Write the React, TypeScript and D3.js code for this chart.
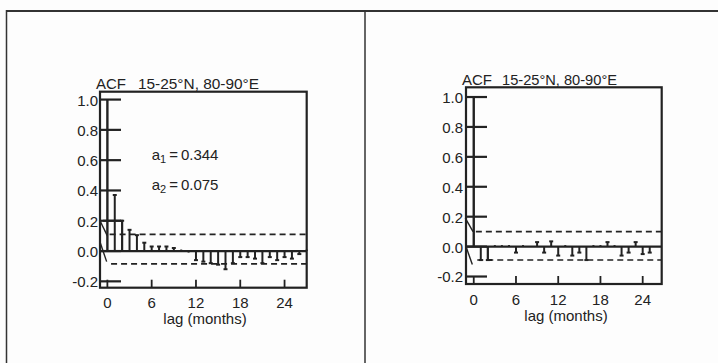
import React from "react";
import * as d3 from "d3";

// ---- data ----
const lagTicks = [0, 6, 12, 18, 24];
const yTicks = [-0.2, 0.0, 0.2, 0.4, 0.6, 0.8, 1.0];
const yTickLabels = ["-0.2", "0.0", "0.2", "0.4", "0.6", "0.8", "1.0"];
const titleHead = "ACF";
const titleTail = "15-25°N, 80-90°E";
const xTitle = "lag (months)";

const leftLags = [0,1,2,3,4,5,6,7,8,9,10,11,12,13,14,15,16,17,18,19,20,21,22,23,24,25,26,27];
const leftAcf = [1.0,0.37,0.2,0.14,0.105,0.055,0.03,0.03,0.03,0.02,0.01,-0.01,-0.06,-0.07,-0.08,-0.09,-0.12,-0.08,-0.04,-0.04,-0.05,-0.08,-0.04,-0.06,-0.04,-0.05,-0.02,0.01];
const leftUpper = 0.11;
const leftLower = -0.085;
const leftModelLag = [-0.6, 2, 2];
const leftModelVal = [0.2, 0.2, 0.0];
const leftDiagUpperLag = [-1, 0];
const leftDiagUpperVal = [0.2, 0.1];
const leftDiagLowerLag = [-1, -0.1];
const leftDiagLowerVal = [0.06, -0.07];

const rightLags = [0,1,2,3,4,5,6,7,8,9,10,11,12,13,14,15,16,17,18,19,20,21,22,23,24,25,26];
const rightAcf = [1.0,-0.09,-0.09,0.01,0.01,0.01,-0.04,0.01,0.0,0.03,-0.04,0.035,-0.06,0.01,-0.06,-0.04,-0.09,0.01,0.01,0.03,0.01,-0.06,-0.04,0.03,-0.05,-0.04,0.0];
const rightUpper = 0.1;
const rightLower = -0.09;
const rightModelLag = [2, 2, 2.6];
const rightModelVal = [0.0, -0.09, -0.09];
const rightDiagUpperLag = [-1.2, -0.1];
const rightDiagUpperVal = [0.19, 0.1];
const rightDiagLowerLag = [-1.1, -0.2];
const rightDiagLowerVal = [0.0, -0.12];

const INK = "#222";
const FONT = "'Liberation Sans', Arial, sans-serif";

type PanelProps = {
  x0: number; x1: number; y0: number; y1: number;
  xDomain: [number, number]; yDomain: [number, number];
  lags: number[]; acf: number[];
  upper: number; lower: number;
  modelLag: number[]; modelVal: number[];
  duLag: number[]; duVal: number[];
  dlLag: number[]; dlVal: number[];
  labelRight: number; titleX: number; titleY: number; tailX: number; tailLen: number;
  tickLabelY: number; xTitleX: number; xTitleY: number;
  annot?: boolean;
};

function Panel(p: PanelProps) {
  const x = d3.scaleLinear().domain(p.xDomain).range([p.x0, p.x1]);
  const y = d3.scaleLinear().domain(p.yDomain).range([p.y1, p.y0]);
  const line = d3.line<[number, number]>().x(d => x(d[0])).y(d => y(d[1]));
  const model = line(p.modelLag.map((l, i) => [l, p.modelVal[i]] as [number, number])) || "";
  const du = line(p.duLag.map((l, i) => [l, p.duVal[i]] as [number, number])) || "";
  const dl = line(p.dlLag.map((l, i) => [l, p.dlVal[i]] as [number, number])) || "";
  return (
    <g>
      {yTicks.map((t, i) => (
        <line key={"yt" + i} x1={p.x0} x2={p.x0 + 21} y1={y(t)} y2={y(t)} stroke={INK} strokeWidth={2.2} />
      ))}
      {yTicks.map((t, i) => (
        <text key={"yl" + i} x={p.labelRight} y={y(t) + 2} textAnchor="end" dominantBaseline="middle"
          fontFamily={FONT} fontSize={15} fill={INK}>{yTickLabels[i]}</text>
      ))}
      {lagTicks.map((t, i) => (
        <line key={"xt" + i} x1={x(t)} x2={x(t)} y1={p.y1} y2={p.y1 - 8} stroke={INK} strokeWidth={1.8} />
      ))}
      {lagTicks.map((t, i) => (
        <text key={"xl" + i} x={x(t)} y={p.tickLabelY} textAnchor="middle" dominantBaseline="middle"
          fontFamily={FONT} fontSize={15} fill={INK}>{t}</text>
      ))}
      <text x={p.xTitleX} y={p.xTitleY} textAnchor="middle" dominantBaseline="middle"
        fontFamily={FONT} fontSize={15} fill={INK}>{xTitle}</text>
      <text x={p.titleX} y={p.titleY} fontFamily={FONT} fontSize={15} fill={INK}>{titleHead}</text>
      <text x={p.tailX} y={p.titleY} fontFamily={FONT} fontSize={15} fill={INK}
        textLength={p.tailLen} lengthAdjust="spacingAndGlyphs">{titleTail}</text>
      <line x1={x(0.3)} x2={p.x1} y1={y(p.upper)} y2={y(p.upper)} stroke={INK} strokeWidth={1.6} strokeDasharray="6,4" />
      <line x1={x(0.5)} x2={p.x1} y1={y(p.lower)} y2={y(p.lower)} stroke={INK} strokeWidth={1.6} strokeDasharray="6,4" />
      <path d={du} stroke={INK} strokeWidth={1.4} fill="none" />
      <path d={dl} stroke={INK} strokeWidth={1.4} fill="none" />
      <line x1={p.x0} x2={p.x1} y1={y(0)} y2={y(0)} stroke={INK} strokeWidth={2.2} />
      {p.lags.map((l, i) => (
        <line key={"b" + i} x1={x(l)} x2={x(l)} y1={y(0)} y2={y(p.acf[i])} stroke={INK} strokeWidth={i === 0 ? 2.4 : 2} />
      ))}
      {p.lags.map((l, i) => (
        i > 0 && Math.abs(p.acf[i]) >= 0.02 ? (
          <line key={"c" + i} x1={x(l) - 2} x2={x(l) + 2} y1={y(p.acf[i])} y2={y(p.acf[i])} stroke={INK} strokeWidth={2} />
        ) : null
      ))}
      <path d={model} stroke={INK} strokeWidth={1.9} fill="none" />
      <rect x={p.x0} y={p.y0} width={p.x1 - p.x0} height={p.y1 - p.y0} fill="none" stroke={INK} strokeWidth={2.2} />
      {p.annot ? (
        <g fontFamily={FONT} fontSize={15} fill={INK}>
          <text x={x(6)} y={y(0.63)} dominantBaseline="middle">a<tspan fontSize={11} dy={4}>1</tspan><tspan dy={-4}>{"\u2009=\u20090.344"}</tspan></text>
          <text x={x(6)} y={y(0.43)} dominantBaseline="middle">a<tspan fontSize={11} dy={4}>2</tspan><tspan dy={-4}>{"\u2009=\u20090.075"}</tspan></text>
        </g>
      ) : null}
    </g>
  );
}

export default function App() {
  return (
    <svg width={718} height={363} style={{ position: "absolute", left: 0, top: 0, background: "#fff" }}>
      <rect x={0} y={0} width={718} height={363} fill="#fdfdfd" />
      <line x1={6} x2={718} y1={11} y2={11} stroke="#333" strokeWidth={2} />
      <line x1={6.5} x2={6.5} y1={10} y2={363} stroke="#333" strokeWidth={1.5} />
      <line x1={365} x2={365} y1={10} y2={363} stroke="#333" strokeWidth={1.5} />
      <Panel x0={100} x1={306.7} y0={91.7} y1={287.7} xDomain={[-1, 27]} yDomain={[-0.242, 1.052]}
        lags={leftLags} acf={leftAcf} upper={leftUpper} lower={leftLower}
        modelLag={leftModelLag} modelVal={leftModelVal}
        duLag={leftDiagUpperLag} duVal={leftDiagUpperVal} dlLag={leftDiagLowerLag} dlVal={leftDiagLowerVal}
        labelRight={98} titleX={96} titleY={89} tailX={138} tailLen={121} tickLabelY={304}
        xTitleX={205} xTitleY={320} annot={true} />
      <Panel x0={466} x1={661.7} y0={87.3} y1={284} xDomain={[-1.1, 26.7]} yDomain={[-0.25, 1.065]}
        lags={rightLags} acf={rightAcf} upper={rightUpper} lower={rightLower}
        modelLag={rightModelLag} modelVal={rightModelVal}
        duLag={rightDiagUpperLag} duVal={rightDiagUpperVal} dlLag={rightDiagLowerLag} dlVal={rightDiagLowerVal}
        labelRight={463} titleX={462} titleY={85} tailX={502} tailLen={115} tickLabelY={301}
        xTitleX={566} xTitleY={317} />
    </svg>
  );
}
